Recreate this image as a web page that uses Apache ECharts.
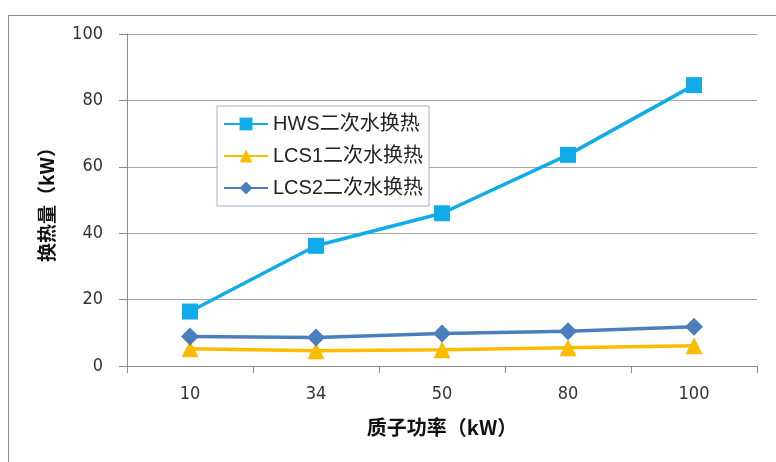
<!DOCTYPE html>
<html>
<head>
<meta charset="utf-8">
<script src="https://cdn.jsdelivr.net/npm/echarts@6/dist/echarts.min.js"></script>
<style>
  html, body { margin: 0; padding: 0; background: #fff; }
  #frame { position: absolute; left: 8px; top: 15px; width: 780px; height: 460px; border: 1px solid #8c8c8c; box-sizing: border-box; }
  #chart { position: absolute; left: 0; top: 0; width: 776px; height: 462px; }
</style>
</head>
<body>
<div id="frame"></div>
<div id="chart"></div>
<script>
// Proton power categories (kW)
const categories = ['10', '34', '50', '80', '100'];
// Secondary-water heat exchange (kW)
const hwsValues  = [16.4, 36.2, 46.0, 63.6, 84.6];
const lcs1Values = [5.2, 4.6, 4.9, 5.5, 6.1];
const lcs2Values = [8.9, 8.6, 9.8, 10.5, 11.8];
const yTicks = [0, 20, 40, 60, 80, 100];

const seriesNames = ['HWS二次水换热', 'LCS1二次水换热', 'LCS2二次水换热'];
const colors = ['#12abea', '#fdbc00', '#4a7ebd'];
const font = '"DejaVu Sans Condensed", "Liberation Sans Narrow", "Noto Sans CJK SC", sans-serif';
const legendFont = '"Liberation Sans", "Noto Sans CJK SC", sans-serif';
const cjk = '"Noto Sans CJK SC", sans-serif';

const chart = echarts.init(document.getElementById('chart'));
chart.setOption({
  animation: false,
  grid: { left: 127, right: 19, top: 34, bottom: 96 },
  legend: {
    orient: 'vertical',
    left: 217, top: 106,
    itemWidth: 44, itemHeight: 16, itemGap: 12,
    padding: [8, 6, 8, 6],
    borderColor: '#9fb0c8', borderWidth: 1,
    backgroundColor: '#fff',
    textStyle: { fontFamily: legendFont, fontSize: 20, color: '#222' },
    data: seriesNames
  },
  xAxis: {
    type: 'category',
    data: categories,
    boundaryGap: true,
    axisLine: { lineStyle: { color: '#8c8c8c', width: 1 } },
    axisTick: { show: true, length: 7, inside: false, lineStyle: { color: '#8c8c8c' } },
    axisLabel: { fontFamily: font, fontSize: 18, color: '#333', margin: 19 },
    name: '质子功率（kW）',
    nameLocation: 'middle',
    nameGap: 51,
    nameTextStyle: { fontFamily: cjk, fontSize: 20, fontWeight: 'bold', color: '#111' }
  },
  yAxis: {
    type: 'value',
    min: yTicks[0], max: yTicks[yTicks.length - 1], interval: 20,
    axisLine: { show: true, lineStyle: { color: '#8c8c8c', width: 1 } },
    axisTick: { show: true, length: 8, lineStyle: { color: '#8c8c8c' } },
    splitLine: { lineStyle: { color: '#a6a6a6', width: 1 } },
    axisLabel: { fontFamily: font, fontSize: 18, color: '#333', margin: 24 },
    name: '换热量（kW）',
    nameLocation: 'middle',
    nameGap: 71,
    nameRotate: 90,
    nameTextStyle: { fontFamily: cjk, fontSize: 19, fontWeight: 'bold', color: '#111' }
  },
  series: [
    { name: seriesNames[0], type: 'line', data: hwsValues, symbol: 'rect', symbolSize: 16,
      lineStyle: { width: 3.5, color: colors[0] }, itemStyle: { color: colors[0] } },
    { name: seriesNames[1], type: 'line', data: lcs1Values, symbol: 'triangle', symbolSize: 17,
      lineStyle: { width: 3.5, color: colors[1] }, itemStyle: { color: colors[1] } },
    { name: seriesNames[2], type: 'line', data: lcs2Values, symbol: 'diamond', symbolSize: 18,
      lineStyle: { width: 3.5, color: colors[2] }, itemStyle: { color: colors[2] } }
  ]
});
</script>
</body>
</html>
